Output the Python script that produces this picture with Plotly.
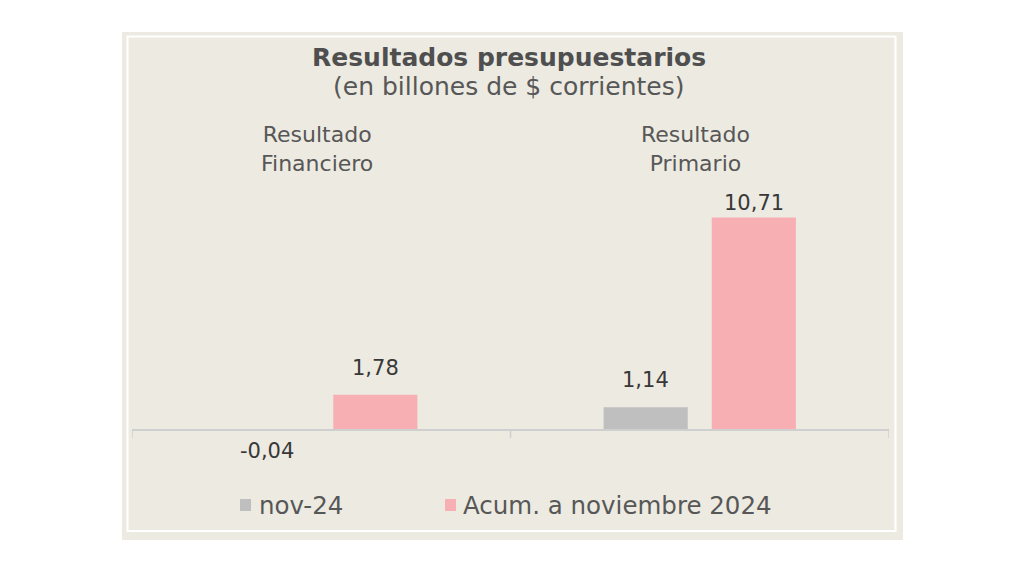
import plotly.graph_objects as go

# ---------------- data ----------------
categories = ["Resultado<br>Financiero", "Resultado<br>Primario"]
series_names = ["nov-24", "Acum. a noviembre 2024"]
nov24 = [-0.04, 1.14]
acum = [1.78, 10.71]
value_labels_nov24 = ["-0,04", "1,14"]
value_labels_acum = ["1,78", "10,71"]
title_text = "Resultados presupuestarios"
subtitle_text = "(en billones de $ corrientes)"

# ---------------- style ----------------
W, H = 1024, 576
FONT = "DejaVu Sans"
BG = "#ECEAE1"
GRAY = "#BFBFBF"
PINK = "#F8AFB3"
TXT = "#575757"
VAL = "#383838"
AXIS = "#CFCFCF"
colors = [GRAY, PINK]

plot_left, plot_right = 132, 889
plot_top, plot_bottom = 180, 470
zero_px = 430
px_per_unit = 19.85
y_max = (zero_px - plot_top) / px_per_unit
y_min = -(plot_bottom - zero_px) / px_per_unit

def px(x):
    return x / W

def py(y):
    return 1 - y / H

fig = go.Figure()
for name, vals, col in zip(series_names, [nov24, acum], colors):
    fig.add_trace(go.Bar(x=[0, 1], y=vals, name=name, marker=dict(color=col, line=dict(width=0)),
                         hoverinfo="skip", showlegend=False))

shapes = []
# panel background and white inner border
shapes.append(dict(type="rect", xref="paper", yref="paper", x0=px(122), x1=px(903), y0=py(540), y1=py(32),
                   fillcolor=BG, line=dict(width=0), layer="below"))
shapes.append(dict(type="rect", xref="paper", yref="paper", x0=px(127.5), x1=px(895.5), y0=py(531), y1=py(36.5),
                   fillcolor="rgba(0,0,0,0)", line=dict(color="#FFFFFF", width=2), layer="below"))
# baseline and ticks
shapes.append(dict(type="line", xref="x", yref="y", x0=-0.5, x1=1.5, y0=0, y1=0,
                   line=dict(color=AXIS, width=2), layer="above"))
for tx in [-0.5, 0.5, 1.5]:
    shapes.append(dict(type="line", xref="x", yref="y", x0=tx, x1=tx, y0=0, y1=-8 / px_per_unit,
                       line=dict(color=AXIS, width=1.5)))

annotations = []
annotations.append(dict(text="<b>" + title_text + "</b>", xref="paper", yref="paper", x=px(509), y=py(57),
                        showarrow=False, font=dict(family=FONT, size=25, color="#4F4F4F"),
                        xanchor="center", yanchor="middle"))
annotations.append(dict(text=subtitle_text, xref="paper", yref="paper", x=px(508), y=py(86),
                        showarrow=False, font=dict(family=FONT, size=25, color=TXT),
                        xanchor="center", yanchor="middle"))
for i, cat in enumerate(categories):
    annotations.append(dict(text=cat, xref="x", yref="paper", x=i, xshift=-4, y=py(149),
                            showarrow=False, font=dict(family=FONT, size=22, color=TXT),
                            xanchor="center", yanchor="middle"))

bar_offset_px = 54
top_val = max(max(nov24), max(acum))
for s, (vals, labels) in enumerate([(nov24, value_labels_nov24), (acum, value_labels_acum)]):
    xs = -bar_offset_px if s == 0 else bar_offset_px
    for i, (v, lab) in enumerate(zip(vals, labels)):
        if v < 0:
            shift = -20
        elif v == top_val:
            shift = 14
        else:
            shift = 27
        annotations.append(dict(text=lab, xref="x", yref="y", x=i, y=v, xshift=xs, yshift=shift,
                                showarrow=False, font=dict(family=FONT, size=21, color=VAL),
                                xanchor="center", yanchor="middle"))

# legend (manual)
legend_pos = [(240, 257), (445, 461)]
for (sq_x, tx_x), name, col in zip(legend_pos, series_names, colors):
    shapes.append(dict(type="rect", xref="paper", yref="paper", x0=px(sq_x), x1=px(sq_x + 11),
                       y0=py(511), y1=py(499), fillcolor=col, line=dict(width=0)))
    annotations.append(dict(text=name, xref="paper", yref="paper", x=px(tx_x), y=py(505),
                            showarrow=False, font=dict(family=FONT, size=24.5, color=TXT),
                            xanchor="left", yanchor="middle"))

fig.update_layout(
    width=W, height=H, margin=dict(l=0, r=0, t=0, b=0),
    paper_bgcolor="#FFFFFF", plot_bgcolor="rgba(0,0,0,0)",
    barmode="group", bargap=0.4286, bargroupgap=0.222,
    xaxis=dict(domain=[px(plot_left), px(plot_right)], range=[-0.5, 1.5], showgrid=False,
               zeroline=False, showticklabels=False, ticks="", showline=False, fixedrange=True),
    yaxis=dict(domain=[py(plot_bottom), py(plot_top)], range=[y_min, y_max], showgrid=False,
               zeroline=False, showticklabels=False, ticks="", showline=False, fixedrange=True),
    shapes=shapes, annotations=annotations, showlegend=False,
)

fig.write_html("out.html")
